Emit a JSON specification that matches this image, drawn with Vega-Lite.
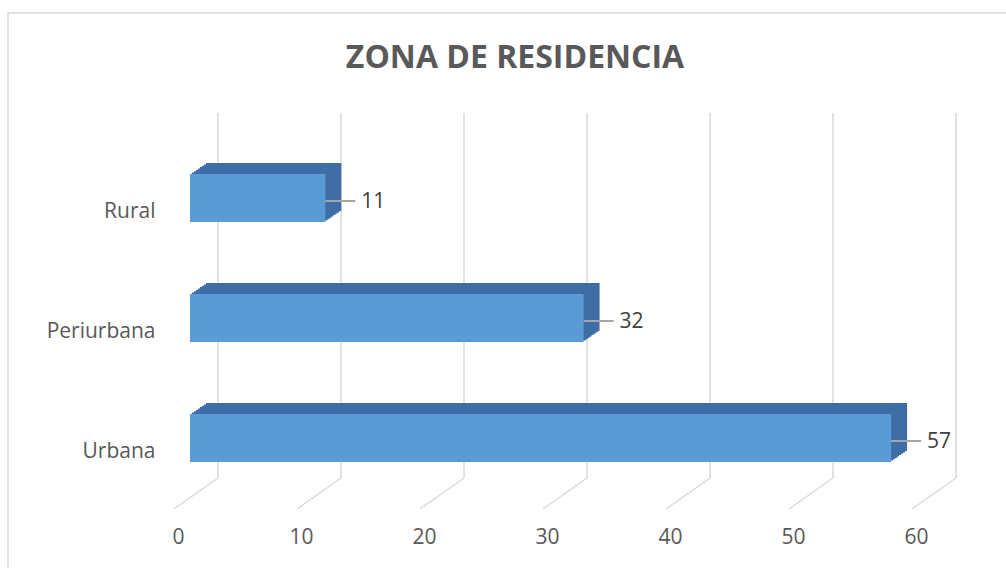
{
  "$schema": "https://vega.github.io/schema/vega-lite/v6.json",
  "autosize": {"type": "none"},
  "width": 1000,
  "height": 560,
  "padding": {"left": 8, "top": 13, "right": 0, "bottom": 0},
  "background": "white",
  "title": {
    "text": "ZONA DE RESIDENCIA",
    "font": "Open Sans",
    "fontSize": 32,
    "fontWeight": "bold",
    "color": "#595959",
    "anchor": "middle",
    "frame": "group",
    "baseline": "middle",
    "offset": -77,
    "dx": 7
  },
  "config": {
    "view": {"stroke": "#d9d9d9", "strokeWidth": 1.5},
    "font": "Open Sans",
    "axis": {"labelFont": "Open Sans", "labelFontSize": 21, "labelColor": "#595959"}
  },
  "datasets": {
    "zonas": [
      {"zona": "Rural", "n": 11},
      {"zona": "Periurbana", "n": 32},
      {"zona": "Urbana", "n": 57}
    ],
    "ticks": [
      {"v": 0}, {"v": 10}, {"v": 20}, {"v": 30}, {"v": 40}, {"v": 50}, {"v": 60}
    ]
  },
  "layer": [
    {
      "data": {"name": "ticks"},
      "mark": {"type": "rule", "color": "#d9d9d9", "strokeWidth": 1.5, "xOffset": 28, "x2Offset": 28, "yOffset": 100, "y2Offset": -95},
      "encoding": {
        "x": {"field": "v", "type": "quantitative", "scale": {"domain": [0, 60], "range": [182, 920], "nice": false, "zero": false},
              "axis": {"values": [0, 10, 20, 30, 40, 50, 60], "title": null, "domain": false, "ticks": false, "grid": false, "labelFlush": false, "labelOverlap": false, "offset": -75, "labelPadding": 28, "labelOffset": -12}},
        "y": {"value": 0},
        "y2": {"value": "height"}
      }
    },
    {
      "data": {"name": "ticks"},
      "mark": {"type": "rule", "color": "#d9d9d9", "strokeWidth": 1.5, "xOffset": 28, "x2Offset": -16, "yOffset": -95, "y2Offset": -64},
      "encoding": {
        "x": {"field": "v", "type": "quantitative"},
        "x2": {"field": "v"},
        "y": {"value": "height"},
        "y2": {"value": "height"}
      }
    },
    {
      "data": {"name": "zonas"},
      "encoding": {
        "x": {"field": "n", "type": "quantitative"},
        "y": {"field": "zona", "type": "nominal", "sort": ["Rural", "Periurbana", "Urbana"],
              "scale": {"range": [125, 485], "paddingInner": 0.6, "paddingOuter": 0.3},
              "axis": {"title": null, "domain": false, "ticks": false, "grid": false, "offset": -182, "labelPadding": 35, "labelOffset": 14}}
      },
      "layer": [
        {"mark": {"type": "bar", "color": "#3f6ea6", "xOffset": 16, "x2Offset": 16, "yOffset": -11, "y2Offset": -11}},
        {"mark": {"type": "bar", "color": "#3f6ea6", "xOffset": 14, "x2Offset": 14, "yOffset": -9.6, "y2Offset": -9.6}},
        {"mark": {"type": "bar", "color": "#3f6ea6", "xOffset": 12, "x2Offset": 12, "yOffset": -8.25, "y2Offset": -8.25}},
        {"mark": {"type": "bar", "color": "#3f6ea6", "xOffset": 10, "x2Offset": 10, "yOffset": -6.9, "y2Offset": -6.9}},
        {"mark": {"type": "bar", "color": "#3f6ea6", "xOffset": 8, "x2Offset": 8, "yOffset": -5.5, "y2Offset": -5.5}},
        {"mark": {"type": "bar", "color": "#3f6ea6", "xOffset": 6, "x2Offset": 6, "yOffset": -4.1, "y2Offset": -4.1}},
        {"mark": {"type": "bar", "color": "#3f6ea6", "xOffset": 4, "x2Offset": 4, "yOffset": -2.75, "y2Offset": -2.75}},
        {"mark": {"type": "bar", "color": "#3f6ea6", "xOffset": 2, "x2Offset": 2, "yOffset": -1.4, "y2Offset": -1.4}},
        {"mark": {"type": "bar", "color": "#5b9bd5"}},
        {"mark": {"type": "rule", "color": "#a6a6a6", "strokeWidth": 2, "x2Offset": 30, "yOffset": 3, "y2Offset": 3},
         "encoding": {"x2": {"field": "n"}}},
        {"mark": {"type": "text", "align": "left", "baseline": "middle", "dx": 36, "dy": 4, "fontSize": 21, "color": "#404040", "font": "Open Sans"},
         "encoding": {"text": {"field": "n", "type": "quantitative"}}}
      ]
    }
  ]
}
